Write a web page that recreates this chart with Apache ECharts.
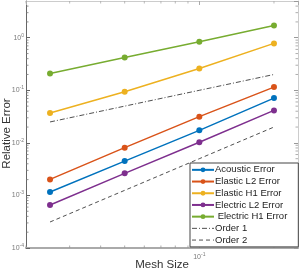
<!DOCTYPE html>
<html>
<head>
<meta charset="utf-8">
<script src="https://cdn.jsdelivr.net/npm/echarts@6/dist/echarts.min.js"></script>
<style>
html,body{margin:0;padding:0;background:#fff;}
#c{width:300px;height:273px;}
</style>
</head>
<body>
<div id="c"></div>
<script>
// Mesh sizes (x)
var meshSize = [0.025, 0.05, 0.1, 0.2];
// Errors
var acousticError = [1.16e-3, 4.5e-3, 0.0173, 0.071];
var elasticL2Error = [2.02e-3, 8.1e-3, 0.0315, 0.115];
var elasticH1Error = [0.0369, 0.094, 0.26, 0.78];
var electricL2Error = [6.57e-4, 2.63e-3, 0.0103, 0.0415];
var electricH1Error = [0.209, 0.42, 0.84, 1.71];
var order1 = [0.025, 0.05, 0.1, 0.2];
var order2 = [3.125e-4, 1.25e-3, 5e-3, 0.02];
var seriesNames = ['Acoustic Error', 'Elastic L2 Error', 'Elastic H1 Error', 'Electric L2 Error', ' Electric H1 Error', 'Order 1', 'Order 2'];
// axis limits
var xMin = 0.02, xMax = 0.25, yMin = 1e-4, yMax = 5;
var yMinor = [];
[1e-4, 1e-3, 1e-2, 1e-1, 1].forEach(function (d) {
  for (var k = 2; k <= 9; k++) { if (k * d < yMax) yMinor.push(k * d); }
});
var xMinor = [0.02, 0.03, 0.04, 0.05, 0.06, 0.07, 0.08, 0.09, 0.2];

function pairs(xs, ys) { return xs.map(function (x, i) { return [x, ys[i]]; }); }

var colors = ['#0072BD', '#D95319', '#EDB120', '#7E2F8E', '#77AC30'];
var errData = [acousticError, elasticL2Error, elasticH1Error, electricL2Error, electricH1Error];

function isPow10(v) { var l = Math.log10(v); return Math.abs(l - Math.round(l)) < 1e-6; }
function powLabel(v) {
  if (!isPow10(v)) return '';
  return '{b|10}{s|' + Math.round(Math.log10(v)) + '}';
}
var labelRich = {
  b: { fontSize: 7, color: '#7a7a7a', fontFamily: 'Liberation Sans' },
  s: { fontSize: 5, color: '#7a7a7a', fontFamily: 'Liberation Sans', verticalAlign: 'top', padding: [0, 0, 5, 0] }
};

var series = [];
errData.forEach(function (d, i) {
  series.push({
    name: seriesNames[i], type: 'line', data: pairs(meshSize, d),
    xAxisIndex: 0, yAxisIndex: 0,
    symbol: 'circle', symbolSize: 6,
    lineStyle: { color: colors[i], width: 1.5 },
    itemStyle: { color: colors[i] },
    z: 3, animation: false
  });
});
series.push({
  name: seriesNames[5], type: 'line', data: pairs(meshSize, order1),
  symbol: 'none', lineStyle: { color: '#222', width: 0.8, type: [5, 2, 1, 2] },
  itemStyle: { color: '#222' }, animation: false, z: 2
});
series.push({
  name: seriesNames[6], type: 'line', data: pairs(meshSize, order2),
  symbol: 'none', lineStyle: { color: '#222', width: 0.8, type: [4, 3] },
  itemStyle: { color: '#222' }, animation: false, z: 2
});
// minor ticks (axis decoration) through the scales
series.push({
  type: 'custom', silent: true, animation: false, z: 1,
  data: yMinor.map(function (v) { return [xMin, v]; }),
  renderItem: function (params, api) {
    var a = api.coord([xMin, api.value(1)]);
    var b = api.coord([xMax, api.value(1)]);
    return { type: 'group', children: [
      { type: 'line', shape: { x1: a[0], y1: a[1], x2: a[0] + 2.5, y2: a[1] }, style: { stroke: '#777', lineWidth: 0.8 } },
      { type: 'line', shape: { x1: b[0], y1: b[1], x2: b[0] - 2.5, y2: b[1] }, style: { stroke: '#999', lineWidth: 0.8 } }
    ] };
  }
});
series.push({
  type: 'custom', silent: true, animation: false, z: 1,
  data: xMinor.map(function (v) { return [v, yMin]; }),
  renderItem: function (params, api) {
    var a = api.coord([api.value(0), yMin]);
    var b = api.coord([api.value(0), yMax]);
    return { type: 'group', children: [
      { type: 'line', shape: { x1: a[0], y1: a[1], x2: a[0], y2: a[1] - 2.5 }, style: { stroke: '#999', lineWidth: 0.8 } },
      { type: 'line', shape: { x1: b[0], y1: b[1], x2: b[0], y2: b[1] + 2.5 }, style: { stroke: '#aaa', lineWidth: 0.8 } }
    ] };
  }
});

var legendData = seriesNames.map(function (n, i) {
  if (i >= 5) return { name: n, itemStyle: { opacity: 0 }, lineStyle: { width: 0.8 } };
  return { name: n };
});

var chart = echarts.init(document.getElementById('c'), null, { renderer: 'canvas' });
chart.setOption({
  backgroundColor: '#fff',
  animation: false,
  textStyle: { fontFamily: 'Liberation Sans' },
  grid: { left: 26, right: 2, top: 1, bottom: 25, containLabel: false, outerBoundsMode: 'none' },
  xAxis: [{
    type: 'log', min: xMin, max: xMax, position: 'bottom',
    name: 'Mesh Size', nameLocation: 'middle', nameGap: 11, nameMoveOverlap: false,
    nameTextStyle: { fontSize: 11.5, color: '#333', fontFamily: 'Liberation Sans' },
    axisLine: { lineStyle: { color: '#aaa', width: 2 } },
    axisTick: { inside: true, length: 4, lineStyle: { color: '#999' } },
    axisLabel: { formatter: powLabel, rich: labelRich, margin: 4, showMinLabel: false, showMaxLabel: false },
    splitLine: { show: false }
  }, {
    type: 'log', min: xMin, max: xMax, position: 'top',
    axisLine: { lineStyle: { color: '#ccc', width: 1 } },
    axisTick: { inside: true, length: 4, lineStyle: { color: '#aaa' } },
    axisLabel: { show: false }, splitLine: { show: false }
  }],
  yAxis: [{
    type: 'log', min: yMin, max: yMax, position: 'left',
    name: 'Relative Error', nameLocation: 'middle', nameGap: 13, nameRotate: 90, nameMoveOverlap: false,
    nameTextStyle: { fontSize: 11.5, color: '#333', fontFamily: 'Liberation Sans', padding: [0, 18, 0, 0] },
    axisLine: { lineStyle: { color: '#666', width: 1 } },
    axisTick: { inside: true, length: 4, lineStyle: { color: '#666' } },
    axisLabel: { formatter: powLabel, rich: labelRich, margin: 2, showMaxLabel: false },
    splitLine: { show: false }
  }, {
    type: 'log', min: yMin, max: yMax, position: 'right',
    axisLine: { lineStyle: { color: '#ccc', width: 1 } },
    axisTick: { inside: true, length: 4, lineStyle: { color: '#999' } },
    axisLabel: { show: false }, splitLine: { show: false }
  }],
  legend: {
    data: legendData,
    orient: 'vertical', left: 190, top: 163,
    backgroundColor: '#fff', borderColor: '#444', borderWidth: 1,
    padding: [1, 11, 1, 1],
    itemWidth: 22, itemHeight: 6, itemGap: 0,
    textStyle: { fontSize: 9.5, color: '#222', fontFamily: 'Liberation Sans', lineHeight: 11.7, padding: [0, 0, 0, -4] }
  },
  series: series
});
</script>
</body>
</html>
